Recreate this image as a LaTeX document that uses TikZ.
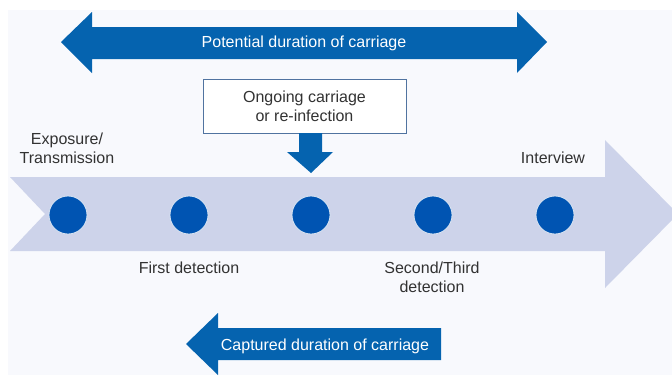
\documentclass[tikz,border=0pt]{standalone}
\usepackage{fontspec}
\setmainfont{Liberation Sans}
\definecolor{bgpanel}{RGB}{248,249,253}
\definecolor{darkarrow}{RGB}{5,99,175}
\definecolor{dotblue}{RGB}{0,84,178}
\definecolor{lightarrow}{RGB}{205,211,234}
\definecolor{boxline}{RGB}{80,115,160}
\definecolor{txt}{RGB}{50,50,50}
\begin{document}
\begin{tikzpicture}[x=1pt,y=-1pt,
  lbl/.style={font=\fontsize{16}{19}\selectfont, text=txt, align=center, inner sep=0pt},
  wlbl/.style={font=\fontsize{16}{19}\selectfont, text=white, align=center, inner sep=0pt},
  dot/.style={circle, fill=dotblue, draw=white!85!dotblue, line width=0.8pt, minimum size=38pt, inner sep=0pt},
  darr/.style={fill=darkarrow},
  larr/.style={fill=lightarrow}]
\useasboundingbox (0,0) rectangle (672,375);
\fill[white] (0,0) rectangle (672,375);
\fill[bgpanel] (8,10) rectangle (672,375);
\clip (0,0) rectangle (672,375);
% big timeline arrow
\fill[larr] (10,177) -- (605,177) -- (605,140) -- (678,214) -- (605,288) -- (605,251) -- (10,251) -- (45,214) -- cycle;
% top double arrow
\fill[darr] (61,42) -- (92,12) -- (92,27) -- (517,27) -- (517,12) -- (547,42) -- (517,73) -- (517,59) -- (92,59) -- (92,73) -- cycle;
\node[wlbl] (pot) at (304,43) {Potential duration of carriage};
% ongoing box
\node[lbl, draw=boxline, line width=0.8pt, fill=white, minimum width=203pt, minimum height=54pt] (ongo) at (304.5,106) {Ongoing carriage\\or re-infection};
% down arrow
\fill[darr] (299,133) -- (322,133) -- (322,152) -- (333,152) -- (311,173) -- (287,152) -- (299,152) -- cycle;
% bottom arrow
\fill[darr] (186,344) -- (218,313) -- (218,328) -- (441,328) -- (441,360) -- (218,360) -- (218,375) -- cycle;
\node[wlbl] (cap) at (325,346) {Captured duration of carriage};
% dots
\node[dot] (d1) at (68,215) {};
\node[dot] (d2) at (189,215) {};
\node[dot] (d3) at (311,215) {};
\node[dot] (d4) at (433,215) {};
\node[dot] (d5) at (555,215) {};
% labels
\node[lbl] (exp) at (67,148) {Exposure/\\Transmission};
\node[lbl] (int) at (553,158) {Interview};
\node[lbl] (fd) at (189,268) {First detection};
\node[lbl] (sd) at (432,277) {Second/Third\\detection};
\end{tikzpicture}
\end{document}
